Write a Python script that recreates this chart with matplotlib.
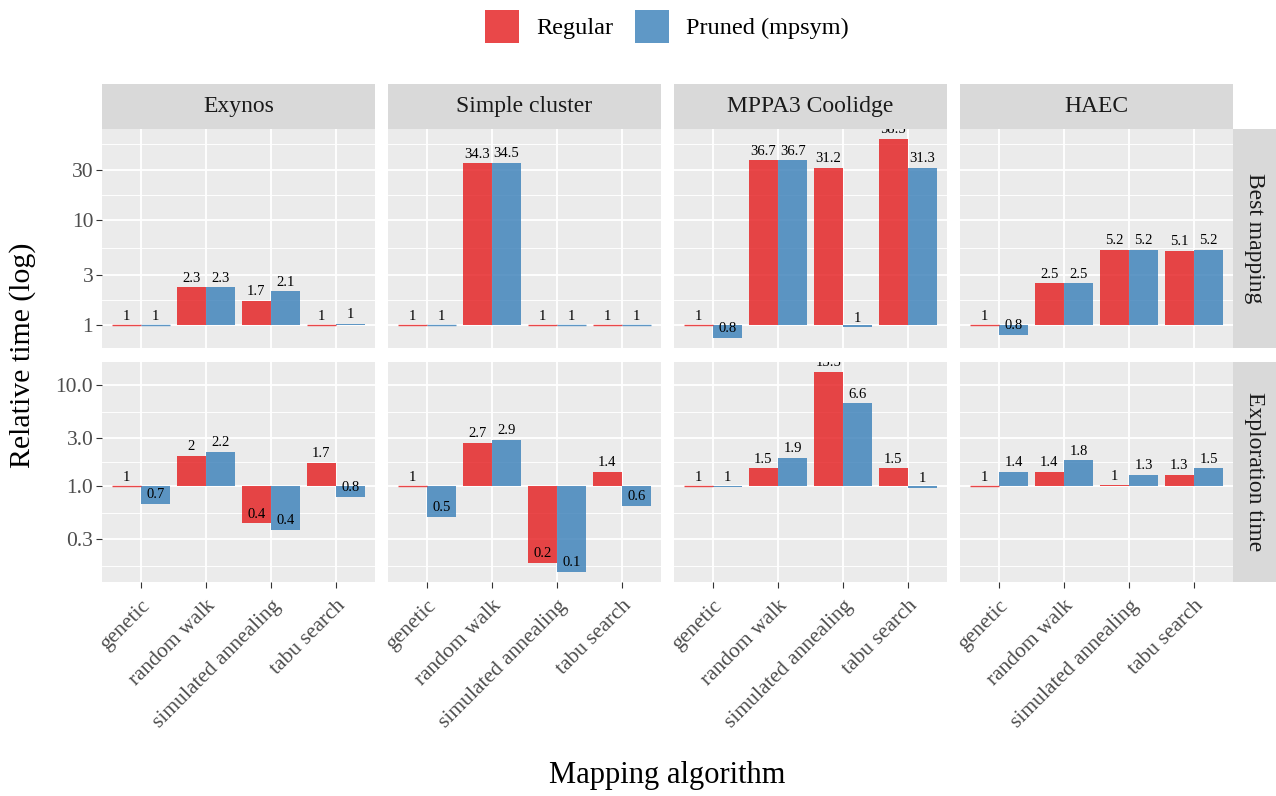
import numpy as np
import matplotlib
matplotlib.use("Agg")
import matplotlib.pyplot as plt
import matplotlib.patches as mpatches

plt.rcParams.update({
    "font.family": ["Liberation Serif", "DejaVu Serif"],
    "font.size":   16,
})

# ── Data ─────────────────────────────────────────────────────
ALGOS    = ["genetic", "random walk", "simulated annealing", "tabu search"]
ARCHS    = ["Exynos", "Simple cluster", "MPPA3 Coolidge", "HAEC"]
METRICS  = ["Best mapping", "Exploration time"]
SERIES   = ["Regular", "Pruned (mpsym)"]

# best mapping (relative time), per architecture, one value per algorithm
best_regular = {
    "Exynos":         [1.0, 2.3, 1.7, 1.0],
    "Simple cluster": [1.0, 34.3, 1.0, 1.0],
    "MPPA3 Coolidge": [1.0, 36.7, 31.2, 58.5],
    "HAEC":           [1.0, 2.5, 5.2, 5.1],
}
best_pruned = {
    "Exynos":         [1.0, 2.3, 2.1, 1.03],
    "Simple cluster": [1.0, 34.5, 1.0, 1.0],
    "MPPA3 Coolidge": [0.76, 36.7, 0.96, 31.3],
    "HAEC":           [0.82, 2.5, 5.2, 5.2],
}
# exploration time (relative)
expl_regular = {
    "Exynos":         [1.0, 2.0, 0.43, 1.7],
    "Simple cluster": [1.0, 2.7, 0.174, 1.4],
    "MPPA3 Coolidge": [1.0, 1.5, 13.5, 1.5],
    "HAEC":           [1.0, 1.4, 1.02, 1.3],
}
expl_pruned = {
    "Exynos":         [0.67, 2.2, 0.37, 0.78],
    "Simple cluster": [0.5, 2.9, 0.142, 0.64],
    "MPPA3 Coolidge": [0.98, 1.9, 6.6, 0.97],
    "HAEC":           [1.4, 1.8, 1.3, 1.5],
}

ROW_DATA   = [(best_regular, best_pruned), (expl_regular, expl_pruned)]
ROW_MAJOR  = [[1, 3, 10, 30], [0.3, 1, 3, 10]]
ROW_LABELS = [["1", "3", "10", "30"], ["0.3", "1.0", "3.0", "10.0"]]

COLORS = ["#E41A1C", "#377EB8"]
ALPHA  = 0.8

# ── Layout (pixels) ──────────────────────────────────────────
W, H = 1276, 796
COL_X  = [102, 388, 674, 960]
COL_W  = 273
ROW_Y  = [(129, 348), (362, 582)]
STRIP_TOP = (84, 129)
STRIP_RX  = (1233, 1276)

PANEL_BG = "#EBEBEB"
STRIP_BG = "#D9D9D9"
TXT_DARK = "#1A1A1A"
TICK_TXT = "#4D4D4D"


def frac(x0, y0, x1, y1):
    return [x0 / W, 1 - y1 / H, (x1 - x0) / W, (y1 - y0) / H]


def row_limits(reg, pru):
    # ggplot-like: free y per row, range incl. 1 (bar base), 5% expansion in log space
    vals = np.log10(np.concatenate([np.ravel(list(reg.values())),
                                    np.ravel(list(pru.values())), [1.0]]))
    lo, hi = vals.min(), vals.max()
    pad = 0.05 * (hi - lo)
    return 10 ** (lo - pad), 10 ** (hi + pad)


def minor_breaks(major):
    lm = np.log10(major)
    ext = np.concatenate([[lm[0] - (lm[1] - lm[0])], lm, [lm[-1] + (lm[-1] - lm[-2])]])
    return 10 ** ((ext[:-1] + ext[1:]) / 2)


def blank(ax):
    ax.set_facecolor(STRIP_BG)
    ax.set_xticks([]); ax.set_yticks([])
    for s in ax.spines.values():
        s.set_visible(False)


fig = plt.figure(figsize=(W / 100, H / 100), dpi=100)

x = np.arange(len(ALGOS))
bw = 0.45

for r, (reg, pru) in enumerate(ROW_DATA):
    ylo, yhi = row_limits(reg, pru)
    y0, y1 = ROW_Y[r]
    for c, arch in enumerate(ARCHS):
        ax = fig.add_axes(frac(COL_X[c], y0, COL_X[c] + COL_W, y1))
        ax.set_facecolor(PANEL_BG)
        ax.set_yscale("log")
        ax.set_ylim(ylo, yhi)
        ax.set_xlim(-0.6, len(ALGOS) - 0.4)
        for s in ax.spines.values():
            s.set_visible(False)

        ax.set_yticks(ROW_MAJOR[r])
        ax.set_yticklabels(ROW_LABELS[r])
        mb = [m for m in minor_breaks(ROW_MAJOR[r]) if ylo < m < yhi]
        ax.set_yticks(mb, minor=True)
        ax.set_xticks(x)
        ax.grid(which="major", color="white", linewidth=1.3)
        ax.grid(which="minor", axis="y", color="white", linewidth=0.65)
        ax.set_axisbelow(True)

        ax.tick_params(axis="y", which="minor", length=0)
        ax.tick_params(axis="y", which="major", length=4.3, width=0.8,
                       color="#333333", labelcolor=TICK_TXT, labelsize=15.5, pad=2)
        if c > 0:
            ax.tick_params(axis="y", which="major", length=0, labelleft=False)
        if r == 1:
            ax.set_xticklabels(ALGOS, rotation=45, ha="right",
                               rotation_mode="anchor")
            ax.tick_params(axis="x", length=4.3, width=0.8, color="#333333",
                           labelcolor=TICK_TXT, labelsize=15.5, pad=6)
        else:
            ax.tick_params(axis="x", length=0, labelbottom=False)

        for k, data in enumerate([reg, pru]):
            vals = np.array(data[arch])
            pos = x + (k - 0.5) * bw
            ax.bar(pos, vals - 1, bottom=1, width=bw, color=COLORS[k],
                   alpha=ALPHA, linewidth=0)
            flat = np.abs(vals - 1) < 0.015      # zero-height bars -> thin line
            if flat.any():
                ax.hlines(vals[flat], pos[flat] - bw / 2, pos[flat] + bw / 2,
                          color=COLORS[k], alpha=ALPHA, linewidth=1.0)
            for px, v in zip(pos, vals):
                lbl = f"{round(v, 1):g}"
                t = ax.annotate(lbl, (px, v), xytext=(0, 2),
                                textcoords="offset points", ha="center",
                                va="bottom", fontsize=10.5, color="black")
                t.set_clip_path(ax.patch)

        # top strips
        if r == 0:
            sax = fig.add_axes(frac(COL_X[c], STRIP_TOP[0], COL_X[c] + COL_W, STRIP_TOP[1]))
            blank(sax)
            sax.text(0.5, 0.5, arch, ha="center", va="center", fontsize=17,
                     color=TXT_DARK, transform=sax.transAxes)

    # right strips
    rax = fig.add_axes(frac(STRIP_RX[0], y0, STRIP_RX[1], y1))
    blank(rax)
    rax.text(0.5, 0.5, METRICS[r], ha="center", va="center", rotation=-90,
             fontsize=17, color=TXT_DARK, transform=rax.transAxes)

# axis titles
fig.text(23 / W, 1 - 355 / H, "Relative time (log)", rotation=90,
         ha="center", va="center", fontsize=21.5, color="black")
fig.text(667 / W, 1 - 775 / H, "Mapping algorithm", ha="center",
         va="center", fontsize=22, color="black")

# legend
handles = [mpatches.Patch(facecolor=COLORS[k], alpha=ALPHA, edgecolor="none",
                          label=SERIES[k]) for k in range(2)]
fig.legend(handles=handles, loc="upper center", ncol=2,
           bbox_to_anchor=(667 / W, 1 + 7 / H), frameon=False,
           fontsize=17.5, handlelength=1.4, handleheight=1.7,
           handletextpad=0.7, columnspacing=0.9, borderpad=0.2)

plt.savefig("out.png", dpi=100)
plt.close()
